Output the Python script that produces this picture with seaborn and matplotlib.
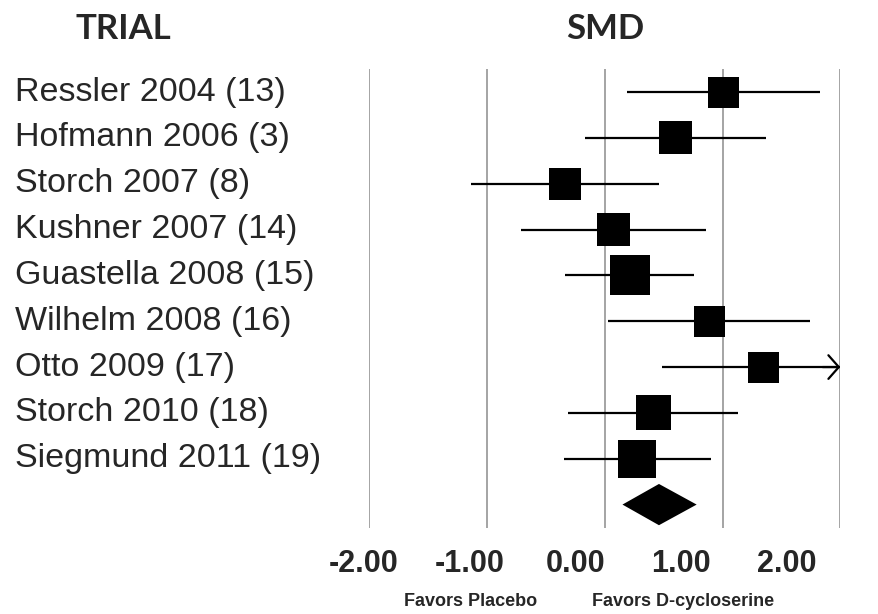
import numpy as np
import pandas as pd
import matplotlib.pyplot as plt
import seaborn as sns

# Data
trials = ['Ressler 2004 (13)', 'Hofmann 2006 (3)', 'Storch 2007 (8)', 'Kushner 2007 (14)',
          'Guastella 2008 (15)', 'Wilhelm 2008 (16)', 'Otto 2009 (17)', 'Storch 2010 (18)',
          'Siegmund 2011 (19)']
smd = [1.01, 0.60, -0.34, 0.07, 0.21, 0.89, 1.35, 0.41, 0.27]
ci_low = [0.19, -0.17, -1.14, -0.71, -0.34, 0.03, 0.49, -0.31, -0.35]
ci_high = [1.83, 1.37, 0.46, 0.86, 0.76, 1.74, 2.60, 1.13, 0.90]
weights = [9.3, 10.5, 9.9, 10.5, 15.5, 9.3, 9.3, 11.8, 13.9]
pooled_smd = 0.46
pooled_low = 0.15
pooled_high = 0.78
tick_values = [-2.0, -1.0, 0.0, 1.0, 2.0]
tick_labels = ['-2.00', '-1.00', '0.00', '1.00', '2.00']

df = pd.DataFrame({'trial': trials, 'smd': smd, 'low': ci_low, 'high': ci_high,
                   'weight': weights})
df['row'] = np.arange(len(df))

sns.set_style('white')
plt.rcParams['font.family'] = ['Liberation Sans', 'DejaVu Sans']

fig = plt.figure(figsize=(8.79, 6.14), dpi=100)
ax = fig.add_axes([369.3 / 879, 1 - 527.5 / 614, 471 / 879, 458.4 / 614])
ax.set_xlim(-2, 2)
ax.set_ylim(9.5, -0.5)

# vertical gridlines
for v in tick_values:
    ax.axvline(v, color='#8c8c8c', lw=1.1, zorder=0)

# confidence intervals (clip at the axis edge, arrow when beyond)
xmax = ax.get_xlim()[1]
for _, r in df.iterrows():
    hi = min(r['high'], xmax)
    ax.hlines(r['row'], r['low'], hi, color='black', lw=1.6, zorder=2)
    if r['high'] > xmax:
        ax.annotate('', xy=(xmax, r['row']), xytext=(xmax - 0.15, r['row']),
                    arrowprops=dict(arrowstyle='->,head_length=0.75,head_width=0.85',
                                    color='black', lw=1.6, mutation_scale=10,
                                    shrinkA=0, shrinkB=0),
                    annotation_clip=False)

# study squares, area proportional to weight
k = 53.5
sns.scatterplot(data=df, x='smd', y='row', size='weight',
                sizes=(min(weights) * k, max(weights) * k),
                marker='s', color='black', linewidth=0, legend=False,
                ax=ax, zorder=3, clip_on=False)

# pooled diamond
yd = len(df)
h = 0.45
ax.fill([pooled_low, pooled_smd, pooled_high, pooled_smd],
        [yd, yd - h, yd, yd + h], color='black', lw=0, zorder=3)

ax.set_xticks([])
ax.set_yticks([])
ax.set_xlabel('')
ax.set_ylabel('')
sns.despine(ax=ax, left=True, bottom=True)

# tick labels (slightly compressed scale, as in the original)
ax2 = fig.add_axes([363.7 / 879, 1 - 564 / 614, 423.3 / 879, 0.001])
ax2.set_xlim(-2, 2)
ax2.set_xticks(tick_values)
ax2.set_xticklabels(tick_labels, fontsize=22, fontweight='bold')
ax2.tick_params(axis='x', length=0, pad=0)
ax2.set_yticks([])
sns.despine(ax=ax2, left=True, bottom=True)
for lab in ax2.get_xticklabels():
    lab.set_verticalalignment('center')

# trial names
for _, r in df.iterrows():
    fig.text(15 / 879, 1 - (92 + 45.84 * r['row']) / 614, r['trial'],
             fontsize=24.5, ha='left', va='center')

# headers
fig.text(123 / 879, 1 - 29 / 614, 'TRIAL', fontsize=25, fontweight='bold',
         ha='center', va='center', family=['Lato', 'DejaVu Sans'])
fig.text(605.7 / 879, 1 - 29 / 614, 'SMD', fontsize=25, fontweight='bold',
         ha='center', va='center', family=['Lato', 'DejaVu Sans'])

fig.text(470.8 / 879, 1 - 601 / 614, 'Favors Placebo', fontsize=13,
         fontweight='bold', ha='center', va='center')
fig.text(682.7 / 879, 1 - 601 / 614, 'Favors D-cycloserine', fontsize=13,
         fontweight='bold', ha='center', va='center')

plt.savefig('out.png', dpi=100)
